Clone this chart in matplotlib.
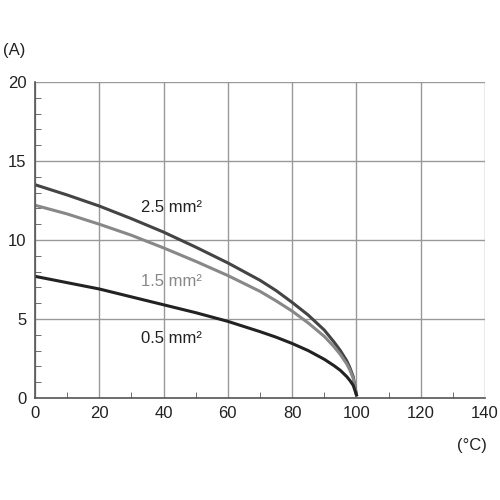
import matplotlib
matplotlib.use("Agg")
import matplotlib.pyplot as plt
from matplotlib.ticker import MultipleLocator

T = [0, 10, 20, 30, 40, 50, 60, 70, 75, 80, 85, 90, 93, 95, 97, 98, 99, 100]
i25 = [13.5, 12.85, 12.15, 11.35, 10.5, 9.55, 8.55, 7.45, 6.8, 6.05, 5.25, 4.3, 3.55, 3.0, 2.35, 1.9, 1.35, 0.2]
i15 = [12.2, 11.65, 11.0, 10.3, 9.5, 8.65, 7.75, 6.75, 6.15, 5.5, 4.75, 3.9, 3.25, 2.75, 2.15, 1.75, 1.25, 0.2]
i05 = [7.7, 7.3, 6.9, 6.4, 5.9, 5.4, 4.85, 4.2, 3.85, 3.45, 3.0, 2.45, 2.05, 1.75, 1.35, 1.1, 0.8, 0.2]

plt.rcParams['font.family'] = ['Liberation Sans', 'DejaVu Sans']
fig = plt.figure(figsize=(5, 5), dpi=100)
ax = fig.add_axes([0.07, 0.204, 0.9, 0.632])
ax.set_xlim(0, 140); ax.set_ylim(0, 20)
ax.xaxis.set_major_locator(MultipleLocator(20))
ax.yaxis.set_major_locator(MultipleLocator(5))
ax.xaxis.set_minor_locator(MultipleLocator(10))
ax.yaxis.set_minor_locator(MultipleLocator(1))
ax.grid(True, which='major', color='#999999', lw=1)
for s in ['top', 'right']:
    ax.spines[s].set_visible(False)
for s in ['left', 'bottom']:
    ax.spines[s].set_color('#555555'); ax.spines[s].set_linewidth(1.2)
ax.tick_params(which='both', direction='in', color='#555555', labelsize=12, labelcolor='#222222')
ax.tick_params(which='major', length=0, pad=6)
ax.tick_params(which='minor', length=4)

ax.plot(T, i25, color='#444444', lw=2.2)
ax.plot(T, i15, color='#888888', lw=2.2)
ax.plot(T, i05, color='#222222', lw=2.2)
ax.text(33, 11.8, '2.5 mm²', fontsize=12, color='#222222')
ax.text(33, 7.1, '1.5 mm²', fontsize=12, color='#888888')
ax.text(33, 3.5, '0.5 mm²', fontsize=12, color='#222222')
fig.text(0.005, 0.89, '(A)', fontsize=12, color='#222222')
fig.text(0.915, 0.1, '(°C)', fontsize=12, color='#222222')
fig.savefig('out.png')
